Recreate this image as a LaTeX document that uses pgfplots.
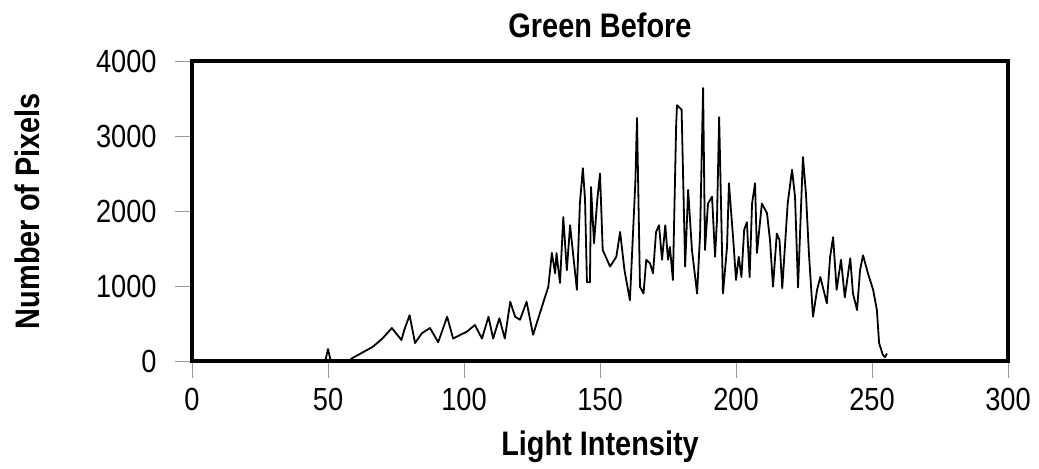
\documentclass[border=0pt]{standalone}
\usepackage{fontspec}
\setmainfont{Liberation Sans}[FakeStretch=0.85]
\usepackage{pgfplots}
\pgfplotsset{compat=1.18}

\begin{document}
\begin{tikzpicture}
\begin{axis}[name=ax,
  scale only axis, width=408pt, height=150pt,
  xmin=0, xmax=300, ymin=0, ymax=4000,
  xtick={0,50,...,300}, ytick={0,1000,...,4000},
  tick pos=left, tick align=outside, major tick length=8.5pt,
  tick style={gray!80, line width=0.5pt},
  axis line style={line width=2pt},
  /pgf/number format/assume math mode=true,
  /pgf/number format/1000 sep={},
  scaled ticks=false,
  ticklabel style={font=\fontsize{16}{19}\selectfont, inner sep=0pt},
  yticklabel style={xshift=-9pt},
  xticklabel style={yshift=-5pt},
  every axis title/.style={at={(0.5,1)}, anchor=base, yshift=12pt,
    font=\fontsize{17}{20}\selectfont\bfseries},
  every axis x label/.style={at={(0.5,0)}, anchor=base, yshift=-47pt,
    font=\fontsize{17}{20}\selectfont\bfseries},
  every axis y label/.style={at={(0,0.5)}, xshift=-76pt, rotate=90, anchor=base,
    font=\fontsize{17}{20}\selectfont\bfseries},
  title={Green Before},
  xlabel={Light Intensity},
  ylabel={Number of Pixels},
]
\addplot[black, line width=0.9pt, mark=none, line join=round] coordinates {
(0,0) (49,0) (50,160) (51,0) (58,10) (59,40) (62,100) (66.5,190) (70,300)
(73.5,440) (75,370) (77,280) (78,410) (80,610) (82,240) (84.5,370) (87.5,440)
(90.5,250) (93.8,590) (96,300) (101,390) (104,480) (106.6,300) (109,590)
(110.7,300) (113,570) (115,300) (117,790) (118.8,590) (120.6,550) (123,790)
(125.4,350) (128,650) (131,990) (132.3,1440) (133.5,1170) (134,1440)
(135.3,1040) (136.5,1920) (137.8,1210) (139,1810) (141.5,950) (142.6,2100)
(143.7,2570) (144.5,2150) (145.2,1050) (146.3,1050) (146.7,2320) (147.8,1570)
(149,2150) (150,2500) (151,1480) (153.7,1260) (156,1390) (157.4,1720)
(159,1210) (161,810) (163,2390) (163.6,3240) (164.7,990) (166,900) (167,1350)
(168.4,1300) (169.5,1170) (170.6,1720) (171.7,1810) (172.8,1350) (174,1810)
(175,1350) (175.7,1520) (176.8,1080) (178,3150) (178.3,3410) (180,3350)
(181.3,1260) (182.4,2280) (183.8,1480) (185.7,900) (186.8,1700) (187.9,3640)
(188.6,1480) (189.7,2100) (191.2,2190) (192.3,1390) (193,1880) (193.8,3250)
(195.2,900) (196.7,1520) (197.4,2370) (199,1610) (200,1080) (201,1390)
(202,1120) (203,1750) (204,1850) (205,1120) (205.9,2100) (207,2370)
(207.7,1440) (209.5,2100) (211.4,1970) (212.5,1610) (213.6,990) (215,1700)
(216,1610) (217,970) (219,2100) (220.6,2550) (221.7,2190) (222.8,980)
(224.6,2720) (225.7,2240) (226.8,1440) (228.3,590) (229.8,950) (231,1120)
(233.4,770) (234.6,1390) (235.7,1650) (237,950) (238.6,1350) (240,850)
(242,1370) (243,900) (244.5,680) (245.6,1210) (246.7,1410) (248.5,1170)
(250.4,950) (251.8,680) (252.6,240) (254,80) (254.8,50) (255.5,100)
};
\end{axis}
\pgfresetboundingbox
\path ([xshift=-96pt,yshift=-53.5pt]ax.south west) rectangle ([xshift=15.5pt,yshift=30.5pt]ax.north east);
\end{tikzpicture}
\end{document}
